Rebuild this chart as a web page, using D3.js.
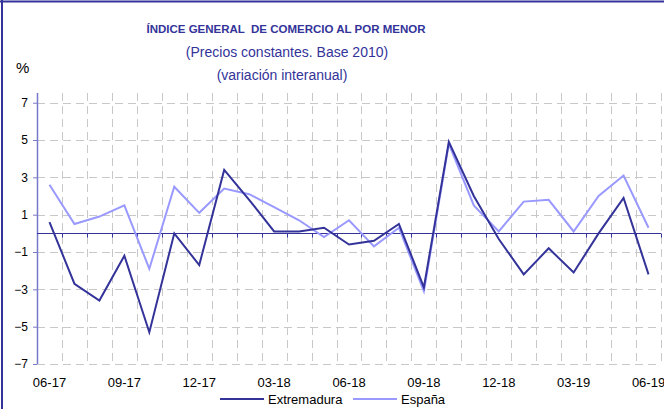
<!DOCTYPE html>
<html>
<head>
<meta charset="utf-8">
<script src="https://cdn.jsdelivr.net/npm/d3@7"></script>
<style>
  body { margin: 0; background: #fff; }
  svg { display: block; font-family: "Liberation Sans", Arial, sans-serif; }
</style>
</head>
<body>
<div id="chart"></div>
<script>
const months = ['06-17', '07-17', '08-17', '09-17', '10-17', '11-17', '12-17', '01-18', '02-18',
  '03-18', '04-18', '05-18', '06-18', '07-18', '08-18', '09-18', '10-18', '11-18', '12-18',
  '01-19', '02-19', '03-19', '04-19', '05-19', '06-19']
const extremadura = [0.6, -2.7, -3.6, -1.2, -5.3, 0.0, -1.7, 3.4, 1.8, 0.1, 0.1, 0.3, -0.6,
  -0.4, 0.5, -2.9, 4.9, 2.0, -0.3, -2.2, -0.8, -2.1, 0.0, 1.9, -2.2]
const espana = [2.6, 0.5, 0.9, 1.5, -1.9, 2.5, 1.1, 2.4, 2.1, 1.4, 0.7, -0.2, 0.7, -0.7, 0.3,
  -3.1, 4.8, 1.5, 0.1, 1.7, 1.8, 0.1, 2.0, 3.1, 0.3]
const yTicks = [7, 5, 3, 1, -1, -3, -5, -7]
const xLabels = ['06-17', '09-17', '12-17', '03-18', '06-18', '09-18', '12-18', '03-19', '06-19']

const W = 664
const H = 409
const margin = { top: 93, right: 3, bottom: 45, left: 37 }
const width = W - margin.left - margin.right
const height = H - margin.top - margin.bottom

const dark = '#333399'
const light = '#9999ff'

const svg = d3.select('#chart').append('svg')
  .attr('width', W)
  .attr('height', H)

// frame
svg.append('line').attr('x1', 2).attr('x2', 2).attr('y1', 0).attr('y2', H)
  .attr('stroke', dark).attr('stroke-width', 2)
svg.append('line').attr('x1', 0).attr('x2', W).attr('y1', 1.5).attr('y2', 1.5)
  .attr('stroke', dark).attr('stroke-width', 2)

// titles
svg.append('text').attr('x', 286).attr('y', 33).attr('text-anchor', 'middle')
  .attr('fill', dark).attr('font-weight', 'bold').attr('font-size', '11.5px')
  .attr('xml:space', 'preserve')
  .text('ÍNDICE GENERAL  DE COMERCIO AL POR MENOR')
svg.append('text').attr('x', 287).attr('y', 57).attr('text-anchor', 'middle')
  .attr('fill', dark).attr('font-size', '14px')
  .text('(Precios constantes. Base 2010)')
svg.append('text').attr('x', 282).attr('y', 80).attr('text-anchor', 'middle')
  .attr('fill', dark).attr('font-size', '14px')
  .text('(variación interanual)')
svg.append('text').attr('x', 16).attr('y', 73)
  .attr('fill', '#000').attr('font-size', '15px')
  .text('%')

const g = svg.append('g')
  .attr('transform', `translate(${margin.left}, ${margin.top})`)

const x = d3.scaleBand()
  .domain(months)
  .range([0, width])

const y = d3.scaleLinear()
  .domain([-7, 7.52])
  .range([height, 0])

const cx = (d) => x(d) + x.bandwidth() / 2

// grid
g.append('g').selectAll('line').data(yTicks).join('line')
  .attr('x1', 0).attr('x2', width)
  .attr('y1', (d) => Math.round(y(d)) + 0.5).attr('y2', (d) => Math.round(y(d)) + 0.5)
  .attr('stroke', '#c8c8c8').attr('stroke-dasharray', '8,5')

g.append('g').selectAll('line').data(months).join('line')
  .attr('x1', (d) => Math.round(x(d) + x.bandwidth()) + 0.5)
  .attr('x2', (d) => Math.round(x(d) + x.bandwidth()) + 0.5)
  .attr('y1', 0).attr('y2', height)
  .attr('stroke', '#c8c8c8').attr('stroke-dasharray', '8,5')

// y axis
const yAxis = g.append('g')
  .call(d3.axisLeft(y).tickValues(yTicks).tickSize(4).tickFormat(d3.format('d')))
yAxis.select('.domain').attr('stroke', '#7777cc').attr('stroke-width', 1.5)
  .attr('d', `M0.5,0V${height}`)
yAxis.selectAll('.tick line').attr('stroke', '#7777cc')
yAxis.selectAll('.tick text').attr('font-size', '12px').attr('fill', '#000')
  .attr('x', -9).attr('font-family', 'Liberation Sans, Arial, sans-serif')

// zero axis with ticks at category boundaries
const zeroY = Math.round(y(0)) + 0.5
g.append('line').attr('x1', 0).attr('x2', width).attr('y1', zeroY).attr('y2', zeroY)
  .attr('stroke', dark).attr('stroke-width', 1.2)
g.append('g').selectAll('line').data(months).join('line')
  .attr('x1', (d) => Math.round(x(d) + x.bandwidth()) + 0.5)
  .attr('x2', (d) => Math.round(x(d) + x.bandwidth()) + 0.5)
  .attr('y1', zeroY).attr('y2', zeroY + 4)
  .attr('stroke', dark)

// x labels
g.append('g').selectAll('text').data(xLabels).join('text')
  .attr('x', (d) => cx(d))
  .attr('y', height + 23)
  .attr('text-anchor', 'middle')
  .attr('font-size', '13px')
  .attr('fill', '#000')
  .text((d) => d)

// series
const line = d3.line()
  .x((d, i) => cx(months[i]))
  .y((d) => y(d))

g.append('path').datum(espana)
  .attr('fill', 'none').attr('stroke', light).attr('stroke-width', 2)
  .attr('stroke-linejoin', 'miter')
  .attr('d', line)

g.append('path').datum(extremadura)
  .attr('fill', 'none').attr('stroke', dark).attr('stroke-width', 2)
  .attr('stroke-linejoin', 'miter')
  .attr('d', line)

// legend
const legend = svg.append('g')
const legendItems = [
  { label: 'Extremadura', color: dark, x0: 220 },
  { label: 'España', color: light, x0: 353 }
]
legend.selectAll('line').data(legendItems).join('line')
  .attr('x1', (d) => d.x0).attr('x2', (d) => d.x0 + 44)
  .attr('y1', 399).attr('y2', 399)
  .attr('stroke', (d) => d.color).attr('stroke-width', 2)
legend.selectAll('text').data(legendItems).join('text')
  .attr('x', (d) => d.x0 + 48).attr('y', 403.5)
  .attr('font-size', '13px').attr('fill', '#000')
  .text((d) => d.label)
</script>
</body>
</html>
